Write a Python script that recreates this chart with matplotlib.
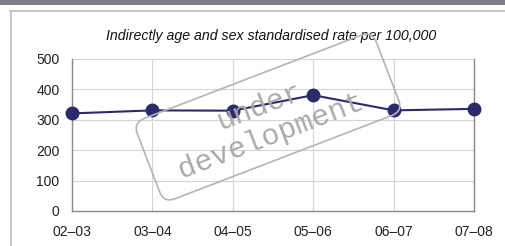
import matplotlib
matplotlib.use("Agg")
import matplotlib.pyplot as plt
from matplotlib.patches import FancyBboxPatch, Rectangle
from matplotlib.lines import Line2D
import matplotlib.transforms as mtransforms

periods = ["02\u201303", "03\u201304", "04\u201305", "05\u201306", "06\u201307", "07\u201308"]
rates = [321, 331, 330, 381, 331, 336]
y_ticks = [0, 100, 200, 300, 400, 500]
title = "Indirectly age and sex standardised rate per 100,000"
watermark = "under\ndevelopment"

W, H = 506, 246
plt.rcParams['font.family'] = ['Liberation Sans', 'DejaVu Sans']
fig = plt.figure(figsize=(W / 100, H / 100), dpi=100)

# top dark bar
fig.patches.append(Rectangle((0, 1 - 4.5 / H), 1, 4.5 / H, transform=fig.transFigure,
                             facecolor="#7f7f85", edgecolor="none"))
# panel border (top and left)
fig.lines.append(Line2D([10 / W, 1], [1 - 10.5 / H, 1 - 10.5 / H], transform=fig.transFigure,
                        color="#c8c8c8", lw=1.5))
fig.lines.append(Line2D([10.5 / W, 10.5 / W], [0, 1 - 10.5 / H], transform=fig.transFigure,
                        color="#c8c8c8", lw=1.5))

left, right, top, bottom = 72, 474, 59, 211
ax = fig.add_axes([left / W, 1 - bottom / H, (right - left) / W, (bottom - top) / H])
x = list(range(len(periods)))
ax.plot(x, rates, color="#2d2a6b", lw=1.5, marker="o", markersize=9, zorder=3, clip_on=False)
ax.set_xlim(0, len(periods) - 1)
ax.set_ylim(0, 500)
ax.set_xticks(x)
ax.set_xticklabels(periods)
ax.set_yticks(y_ticks)
ax.grid(True, color="#d4d4d4", lw=0.8)
ax.set_axisbelow(True)
ax.tick_params(length=0, labelsize=10, colors="#222222")
ax.tick_params(axis="y", pad=9)
ax.tick_params(axis="x", pad=10)
for s in ["left", "bottom", "right"]:
    ax.spines[s].set_color("#8a8a8a")
    ax.spines[s].set_linewidth(1.0)
ax.spines["top"].set_visible(False)

fig.text(271 / W, 1 - 36 / H, title, ha="center", va="center", fontsize=10.2, style="italic",
         color="#111111")

# watermark box
cx, cy = 268, H - 117
bw, bh = 256, 86
rot = mtransforms.Affine2D().rotate_deg_around(cx, cy, 21)
box = FancyBboxPatch((cx - bw / 2, cy - bh / 2), bw, bh,
                     boxstyle="round,pad=0,rounding_size=12",
                     facecolor="none", edgecolor="#b4b4b4", lw=1.2,
                     transform=rot, zorder=10)
fig.patches.append(box)
fig.text(265 / W, 1 - 121 / H, watermark, ha="center", va="center", rotation=21,
         rotation_mode="anchor", multialignment="center", fontsize=21.5,
         family="Liberation Mono", color="#aaaaaa",
         linespacing=1.15, zorder=10)

fig.savefig("out.png", dpi=100)
